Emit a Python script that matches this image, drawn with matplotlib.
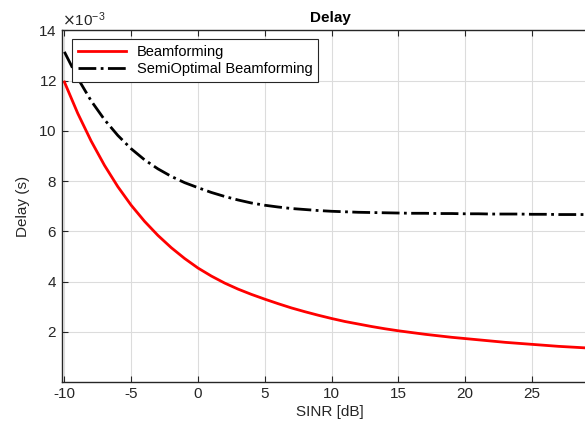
import numpy as np
from matplotlib import pyplot as plt

plt.rcParams['font.family'] = ['Liberation Sans', 'DejaVu Sans']
plt.rcParams['axes.unicode_minus'] = False

sinr = list(range(-10, 30))
# delay in ms (plotted as seconds)
beam = [11.95, 10.7, 9.6, 8.63, 7.78, 7.04, 6.4, 5.84, 5.35, 4.92,
        4.54, 4.22, 3.94, 3.7, 3.49, 3.3, 3.12, 2.95, 2.8, 2.66,
        2.53, 2.41, 2.31, 2.21, 2.12, 2.04, 1.97, 1.9, 1.84, 1.78,
        1.73, 1.68, 1.63, 1.58, 1.54, 1.5, 1.46, 1.42, 1.39, 1.36]
semi = [13.15, 12.1, 11.2, 10.45, 9.82, 9.29, 8.85, 8.49, 8.19, 7.94,
        7.74, 7.55, 7.39, 7.25, 7.13, 7.04, 6.97, 6.91, 6.87, 6.83,
        6.8, 6.78, 6.76, 6.75, 6.74, 6.73, 6.72, 6.72, 6.71, 6.71,
        6.7, 6.7, 6.69, 6.69, 6.69, 6.68, 6.68, 6.67, 6.67, 6.67]
labels = ['Beamforming', 'SemiOptimal Beamforming']

fig = plt.figure(figsize=(5.85, 4.23), dpi=100)
ax = fig.add_axes([0.1055, 0.0969, 0.918, 0.831])

x = np.array(sinr)
ax.plot(x, np.array(beam) * 1e-3, '-', color='red', lw=2, label=labels[0])
ax.plot(x, np.array(semi) * 1e-3, '-.', color='black', lw=2, label=labels[1])

ax.set_xlim(-10.2, 30)
ax.set_ylim(0, 14e-3)
ax.set_xticks(np.arange(-10, 30, 5))
ax.set_yticks(np.arange(2, 15, 2) * 1e-3)
ax.ticklabel_format(axis='y', style='sci', scilimits=(-3, -3), useMathText=True)
ax.yaxis.get_offset_text().set_fontsize(11)

ax.grid(True, color='#dcdcdc', lw=0.8)
ax.set_axisbelow(True)
ax.tick_params(direction='in', top=True, right=True, labelsize=11, length=4,
               color='#262626', labelcolor='#262626')
for s in ax.spines.values():
    s.set_color('#262626')
    s.set_linewidth(1.0)

ax.set_title('Delay', fontsize=11, fontweight='bold', pad=6)
ax.set_xlabel('SINR [dB]', fontsize=11, color='#262626', labelpad=3)
ax.set_ylabel('Delay (s)', fontsize=11, color='#262626', labelpad=6)

leg = ax.legend(loc='upper left', bbox_to_anchor=(0.02, 0.975), fontsize=10.5,
                fancybox=False, framealpha=1, edgecolor='#262626',
                handlelength=3.3, handletextpad=0.7, borderpad=0.4,
                labelspacing=0.2, borderaxespad=0)
leg.get_frame().set_linewidth(0.8)

fig.savefig('out.png', dpi=100)
